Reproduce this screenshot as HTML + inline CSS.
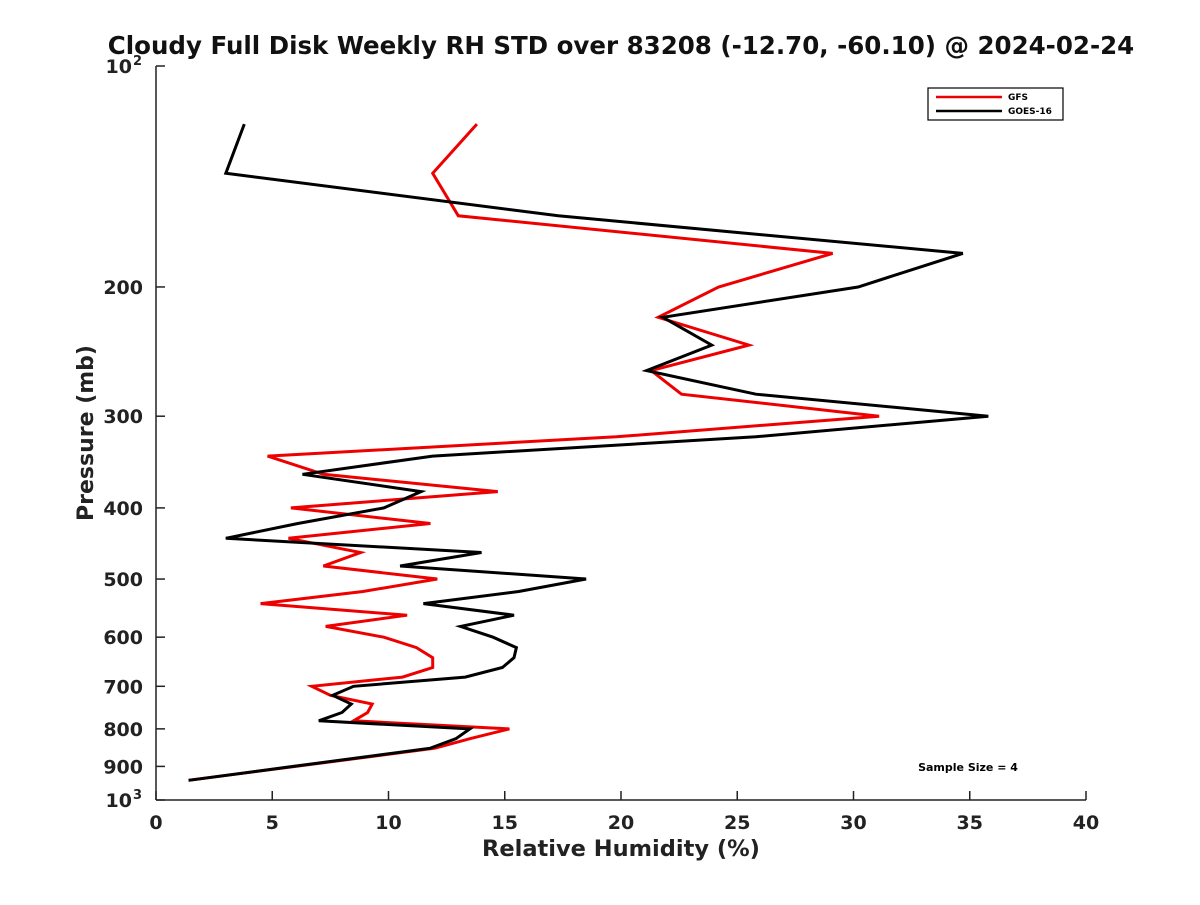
<!DOCTYPE html>
<html><head><meta charset="utf-8"><style>
body{margin:0;background:#fff;}
svg{font-family:"Liberation Sans","DejaVu Sans",sans-serif;}
</style></head><body>
<svg id="chart" width="1200" height="900" viewBox="0 0 1200 900" xmlns="http://www.w3.org/2000/svg">
<rect width="1200" height="900" fill="#fff"/>
<text x="621" y="54" text-anchor="middle" font-family="DejaVu Sans" font-size="24.5" font-weight="bold" fill="#111">Cloudy Full Disk Weekly RH STD over 83208 (-12.70, -60.10) @ 2024-02-24</text>
<g id="axes"></g>
<g id="series"></g>
<text x="621" y="856" text-anchor="middle" font-family="DejaVu Sans" font-size="22.5" font-weight="bold" fill="#222">Relative Humidity (%)</text>
<text transform="translate(93,433) rotate(-90)" text-anchor="middle" font-family="DejaVu Sans" font-size="22" font-weight="bold" fill="#222">Pressure (mb)</text>
<g>
<rect x="928" y="88" width="135" height="32" fill="#fff" stroke="#000" stroke-width="1.2"/>
<line x1="936" y1="97" x2="1002" y2="97" stroke="#e00" stroke-width="2.5"/>
<text x="1008" y="100" font-family="DejaVu Sans" font-size="9" font-weight="bold">GFS</text>
<line x1="936" y1="111" x2="1002" y2="111" stroke="#000" stroke-width="2.5"/>
<text x="1008" y="114" font-family="DejaVu Sans" font-size="9" font-weight="bold">GOES-16</text>
</g>
<text x="968" y="771" text-anchor="middle" font-family="DejaVu Sans" font-size="11" font-weight="bold">Sample Size = 4</text>
</svg>
<script>
const pressures = [120,140,160,180,200,220,240,260,280,300,320,340,360,380,400,420,440,460,480,500,520,540,560,580,600,620,640,660,680,700,720,740,760,780,800,825,850,900,940];
const gfsValues = [13.8,11.9,13.0,29.1,24.2,21.6,25.5,21.3,22.6,31.1,19.8,4.8,7.2,14.7,5.8,11.8,5.7,8.8,7.2,12.1,8.9,4.5,10.8,7.3,9.8,11.2,11.9,11.9,10.6,6.7,7.5,9.3,9.1,8.5,15.2,13.5,12.0,6.0,1.4];
const goesValues = [3.8,3.0,17.3,34.7,30.2,21.8,23.9,21.1,25.8,35.8,25.8,11.9,6.3,11.4,9.8,6.1,3.0,14.0,10.5,18.5,15.6,11.5,15.4,13.1,14.5,15.5,15.4,14.9,13.3,8.5,7.6,8.4,8.0,7.0,13.5,12.9,11.8,5.9,1.4];
const xTicks = [0,5,10,15,20,25,30,35,40];
const yTicks = [100,200,300,400,500,600,700,800,900,1000];
const yTickLabels = ["10|2","200","300","400","500","600","700","800","900","10|3"];

const X0=156,X1=1086,Y0=66,Y1=800;
function xs(v){return X0+(v-0)/(40-0)*(X1-X0);}
function ys(p){return Y0+Math.log10(p/100)*(Y1-Y0);}
const NS="http://www.w3.org/2000/svg";
function mk(tag,attrs,parent){const e=document.createElementNS(NS,tag);for(const k in attrs)e.setAttribute(k,attrs[k]);parent.appendChild(e);return e;}
const axes=document.getElementById('axes');
let a=mk('line',{x1:X0,y1:Y0,x2:X0,y2:Y1,stroke:'#222','stroke-width':1.5},axes);


a=mk('line',{x1:X0,y1:Y1,x2:X1,y2:Y1,stroke:'#222','stroke-width':1.5},axes);


xTicks.forEach(v=>{
  const x=xs(v);
  const t=mk('line',{x1:x,y1:Y1,x2:x,y2:Y1-9,stroke:'#222','stroke-width':1.5},axes);
  
  
  const l=mk('text',{x:x,y:Y1+29,'text-anchor':'middle','font-family':'DejaVu Sans','font-size':19,'font-weight':'bold',fill:'#222'},axes);
  l.textContent=v;
  
  
});
yTicks.forEach((p,i)=>{
  const y=ys(p);
  const t=mk('line',{x1:X0,y1:y,x2:X0+9,y2:y,stroke:'#222','stroke-width':1.5},axes);
  
  
  const lab=yTickLabels[i];
  if(lab.indexOf('|')>=0){
    const parts=lab.split('|');
    const l=mk('text',{x:X0-24,y:y+7,'text-anchor':'end','font-family':'DejaVu Sans','font-size':19,'font-weight':'bold',fill:'#222'},axes);
    l.textContent=parts[0];
    
    
    const s=mk('text',{x:X0-23,y:y-1,'text-anchor':'start','font-family':'DejaVu Sans','font-size':13,'font-weight':'bold',fill:'#222'},axes);
    s.textContent=parts[1];
    
    
  } else {
    const l=mk('text',{x:X0-13,y:y+7,'text-anchor':'end','font-family':'DejaVu Sans','font-size':19,'font-weight':'bold',fill:'#222'},axes);
    l.textContent=lab;
    
    
  }
});
const ser=document.getElementById('series');
function line(vals,color,name){
  const pts=vals.map((v,i)=>xs(v).toFixed(1)+','+ys(pressures[i]).toFixed(1)).join(' ');
  const pl=mk('polyline',{points:pts,fill:'none',stroke:color,'stroke-width':3,'stroke-linejoin':'miter'},ser);
  
  
}
line(gfsValues,'#e00','gfs-line');
line(goesValues,'#000','goes16-line');
</script>
</body></html>
